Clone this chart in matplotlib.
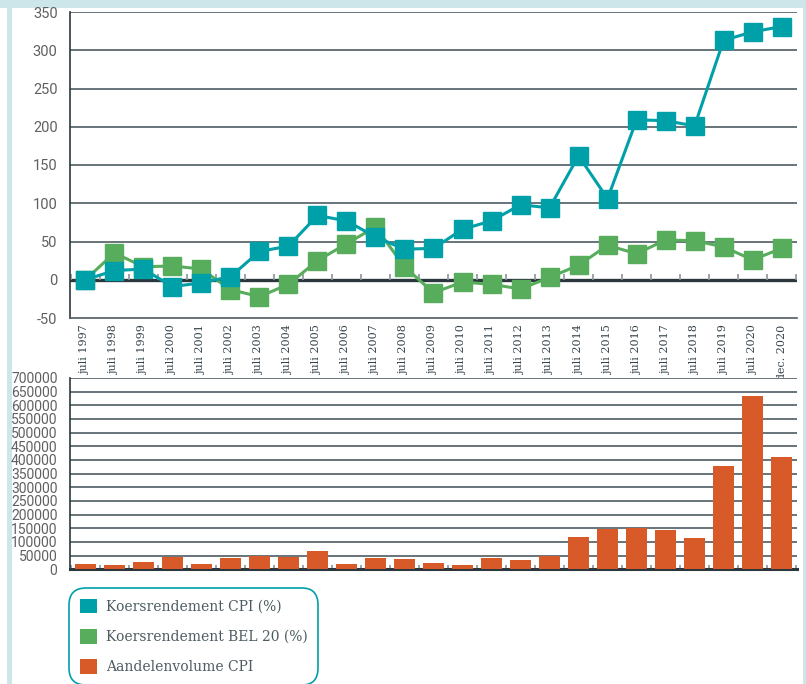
import numpy as np
import matplotlib
matplotlib.use('Agg')
import matplotlib.pyplot as plt
from matplotlib.patches import Rectangle, Patch

plt.rcParams['axes.unicode_minus'] = False

# data
labels = ['juli %d' % y for y in range(1997, 2021)] + ['dec. 2020']
cpi = [0, 12, 14, -9, -4, 4, 37, 44, 84, 77, 56, 40, 41, 66, 77, 98, 94,
       162, 106, 209, 208, 201, 313, 324, 331]
bel20 = [0, 35, 17, 18, 14, -13, -22, -6, 25, 47, 69, 17, -17, -3, -6, -12, 3,
         19, 45, 34, 52, 51, 43, 26, 41]
volume = [19000, 16000, 27000, 45000, 19000, 41000, 50000, 45000, 67000, 19000,
          41000, 38000, 23000, 16000, 41000, 34000, 50000, 118000, 147000,
          152000, 144000, 115000, 378000, 634000, 411000]

teal = '#00a0a9'
green = '#57ad5b'
orange = '#d95a29'
border = '#cde6ea'
grid_c = '#4f5c63'
tick_c = '#606060'

W, H = 806, 684
fig = plt.figure(figsize=(W / 100, H / 100), dpi=100, facecolor='white')

# light blue frame
fig.patches.append(Rectangle((0, 1 - 8 / H), 1, 8 / H, transform=fig.transFigure,
                             facecolor=border, edgecolor='none', zorder=-5))
fig.patches.append(Rectangle((7 / W, 0), 5 / W, 1, transform=fig.transFigure,
                             facecolor=border, edgecolor='none', zorder=-5))
fig.patches.append(Rectangle((803 / W, 0), 3 / W, 1, transform=fig.transFigure,
                             facecolor=border, edgecolor='none', zorder=-5))

x = np.arange(len(labels))
xlim = (-0.53, len(labels) - 0.47)
bounds = np.arange(len(labels) + 1) - 0.5

# ---- top chart: returns
ax = fig.add_axes([70 / W, 1 - 318 / H, 727 / W, 306 / H])
ax.set_xlim(*xlim)
ax.set_ylim(-50, 350)
for v in range(50, 351, 50):
    ax.axhline(v, color=grid_c, lw=1.2, zorder=1)
ax.axhline(0, color='#2c373d', lw=2.4, zorder=2)
ax.vlines(bounds, 0, 8, color='#8a959b', lw=1.2, zorder=2)
ax.plot(x, bel20, color=green, lw=2.2, marker='s', ms=12.5, zorder=3)
ax.plot(x, cpi, color=teal, lw=2.2, marker='s', ms=12.5, zorder=4)
for s in ['top', 'right']:
    ax.spines[s].set_visible(False)
ax.spines['left'].set_color('#2c373d')
ax.spines['bottom'].set_color(grid_c)
ax.spines['left'].set_linewidth(1.2)
ax.spines['bottom'].set_linewidth(1.2)
ax.set_yticks(range(-50, 351, 50))
ax.tick_params(axis='y', length=0, pad=9, labelsize=10.5, labelcolor=tick_c)
for t in ax.get_yticklabels():
    t.set_family('Roboto')
ax.set_xticks(x)
ax.set_xticklabels(labels, rotation=90, family='DejaVu Serif', fontsize=8,
                   color='#34434b', va='top')
ax.tick_params(axis='x', length=0, pad=5)

# ---- bottom chart: volume
ax2 = fig.add_axes([70 / W, 1 - 569.3 / H, 727 / W, 191.3 / H])
ax2.set_xlim(*xlim)
ax2.set_ylim(0, 700000)
for v in range(50000, 700001, 50000):
    ax2.axhline(v, color=grid_c, lw=1.2, zorder=1)
ax2.bar(x, volume, width=0.72, color=orange, zorder=3)
ax2.vlines(bounds, 0, 15000, color='#8a959b', lw=1.2, zorder=2)
for s in ['top', 'right']:
    ax2.spines[s].set_visible(False)
ax2.spines['left'].set_color('#2c373d')
ax2.spines['left'].set_linewidth(1.2)
ax2.spines['bottom'].set_color('#2c373d')
ax2.spines['bottom'].set_linewidth(2.2)
ax2.set_yticks(range(0, 700001, 50000))
ax2.set_yticklabels([str(v) for v in range(0, 700001, 50000)])
ax2.tick_params(axis='y', length=0, pad=9, labelsize=10, labelcolor=tick_c)
for t in ax2.get_yticklabels():
    t.set_family('Roboto')
ax2.set_xticks([])

# ---- legend
handles = [Patch(facecolor=teal, label='Koersrendement CPI (%)'),
           Patch(facecolor=green, label='Koersrendement BEL 20 (%)'),
           Patch(facecolor=orange, label='Aandelenvolume CPI')]
leg = fig.legend(handles=handles, loc='upper left',
                 bbox_to_anchor=(72 / W, 1 - 591 / H),
                 prop={'family': 'DejaVu Serif', 'size': 10},
                 handlelength=1.25, handleheight=1.25, handletextpad=0.65,
                 labelspacing=1.1, borderpad=0.55, borderaxespad=0,
                 fancybox=True, edgecolor=teal, framealpha=1)
leg.get_frame().set_linewidth(1.2)
leg.get_frame().set_boxstyle('round,pad=0.2,rounding_size=1.2')
for t in leg.get_texts():
    t.set_color('#4d5b61')

fig.savefig('out.png', dpi=100, facecolor='white')
